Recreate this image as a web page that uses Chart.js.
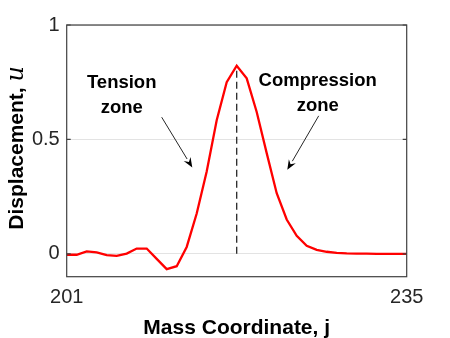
<!DOCTYPE html>
<html>
<head>
<meta charset="utf-8">
<script src="https://cdn.jsdelivr.net/npm/chart.js@4.4.1/dist/chart.umd.min.js"></script>
<style>
  html, body { margin: 0; padding: 0; background: #ffffff; }
  #wrap { width: 450px; height: 338px; position: relative; }
</style>
</head>
<body>
<div id="wrap"><canvas id="c" width="450" height="338"></canvas></div>
<script>
// ---- data ----
const massCoordinate = [201,202,203,204,205,206,207,208,209,210,211,212,213,214,215,216,217,218,219,220,221,222,223,224,225,226,227,228,229,230,231,232,233,234,235];
const displacement = [-0.004,-0.004,0.011,0.006,-0.006,-0.009,0.001,0.023,0.023,-0.022,-0.067,-0.054,0.03,0.176,0.36,0.584,0.75,0.822,0.767,0.62,0.44,0.265,0.15,0.079,0.035,0.017,0.009,0.004,0.002,0.001,0.0005,0,0,0,0];
const peakX = [218, 218];
const peakY = [0, 0.822];
const xTickValues = [201, 235];
const yTickValues = [0, 0.5, 1];
const yTickLabels = ['0', '0.5', '1'];
const xAxisTitle = 'Mass Coordinate, j';
const yAxisTitleMain = 'Displacement, ';
const yAxisTitleSymbol = 'u';
// annotation texts: label lines, x, y of each line (data coordinates)
const annotationTexts = [
  { lines: ['Tension', 'zone'], x: 206.5, y: [0.745, 0.637] },
  { lines: ['Compression', 'zone'], x: 226.1, y: [0.757, 0.648] }
];
// arrows: from (x0,y0) to tip (x1,y1), data coordinates
const annotationArrows = [
  { x0: 210.5, y0: 0.597, x1: 213.56, y1: 0.377 },
  { x0: 226.2, y0: 0.603, x1: 223.06, y1: 0.367 }
];

const curve = massCoordinate.map((x, i) => ({ x: x, y: displacement[i] }));
const peakLine = peakX.map((x, i) => ({ x: x, y: peakY[i] }));

const SANS = '"Liberation Sans", Arial, Helvetica, sans-serif';

const decor = {
  id: 'decor',
  afterDatasetsDraw(chart) {
    const ctx = chart.ctx;
    const xs = chart.scales.x, ys = chart.scales.y;
    const a = chart.chartArea;
    ctx.save();
    // annotations text
    ctx.fillStyle = '#000000';
    ctx.font = 'bold 18.5px ' + SANS;
    ctx.textAlign = 'center';
    ctx.textBaseline = 'middle';
    annotationTexts.forEach(t => {
      t.lines.forEach((ln, i) => {
        ctx.fillText(ln, xs.getPixelForValue(t.x), ys.getPixelForValue(t.y[i]));
      });
    });
    // arrows
    ctx.strokeStyle = '#262626';
    ctx.fillStyle = '#000000';
    ctx.lineWidth = 1;
    annotationArrows.forEach(ar => {
      const px0 = xs.getPixelForValue(ar.x0), py0 = ys.getPixelForValue(ar.y0);
      const px1 = xs.getPixelForValue(ar.x1), py1 = ys.getPixelForValue(ar.y1);
      const ang = Math.atan2(py1 - py0, px1 - px0);
      const L = 10, W = 4;
      const bx = px1 - L * Math.cos(ang), by = py1 - L * Math.sin(ang);
      ctx.beginPath();
      ctx.moveTo(px0, py0);
      ctx.lineTo(bx, by);
      ctx.stroke();
      ctx.beginPath();
      ctx.moveTo(px1, py1);
      ctx.lineTo(bx + W * Math.sin(ang), by - W * Math.cos(ang));
      ctx.lineTo(bx + 0.35 * L * Math.cos(ang), by + 0.35 * L * Math.sin(ang));
      ctx.lineTo(bx - W * Math.sin(ang), by + W * Math.cos(ang));
      ctx.closePath();
      ctx.fill();
    });
    // box
    ctx.strokeStyle = '#404040';
    ctx.lineWidth = 1.2;
    ctx.strokeRect(a.left, a.top, a.right - a.left, a.bottom - a.top);
    // inner tick marks on y
    ys.ticks.forEach(t => {
      const py = ys.getPixelForValue(t.value);
      ctx.beginPath();
      ctx.moveTo(a.left, py); ctx.lineTo(a.left + 4, py);
      ctx.moveTo(a.right, py); ctx.lineTo(a.right - 4, py);
      ctx.stroke();
    });
    // x title
    ctx.fillStyle = '#000000';
    ctx.font = 'bold 21px ' + SANS;
    ctx.textAlign = 'center';
    ctx.textBaseline = 'alphabetic';
    ctx.fillText(xAxisTitle, (a.left + a.right) / 2, 333.5);
    // y title (rotated)
    const mainFont = 'bold 21px ' + SANS;
    const symFont = 'italic 24px "DejaVu Serif", serif';
    ctx.font = mainFont;
    const w1 = ctx.measureText(yAxisTitleMain).width;
    ctx.font = symFont;
    const w2 = ctx.measureText(yAxisTitleSymbol).width;
    const cy = (a.top + a.bottom) / 2 - 3;
    ctx.translate(22.7, cy);
    ctx.rotate(-Math.PI / 2);
    ctx.textAlign = 'left';
    ctx.font = mainFont;
    ctx.fillText(yAxisTitleMain, -(w1 + w2) / 2, 0);
    ctx.font = symFont;
    ctx.fillText(yAxisTitleSymbol, -(w1 + w2) / 2 + w1, 0);
    ctx.restore();
  }
};

new Chart(document.getElementById('c'), {
  type: 'line',
  data: {
    datasets: [
      {
        data: curve,
        borderColor: '#ff0000',
        borderWidth: 2.3,
        pointRadius: 0,
        tension: 0,
        fill: false
      },
      {
        data: peakLine,
        borderColor: '#262626',
        borderWidth: 1.3,
        borderDash: [7, 4],
        pointRadius: 0,
        fill: false
      }
    ]
  },
  options: {
    responsive: false,
    animation: false,
    devicePixelRatio: 1,
    layout: { padding: { left: 0, right: 43.3, top: 25, bottom: 0 } },
    plugins: { legend: { display: false }, tooltip: { enabled: false } },
    scales: {
      x: {
        type: 'linear',
        min: 201, max: 235,
        afterBuildTicks: s => { s.ticks = xTickValues.map(v => ({ value: v })); },
        afterFit: s => { s.height = 61.3; },
        grid: { display: false, drawTicks: false },
        border: { display: false },
        ticks: { padding: 9, color: '#262626', font: { family: SANS, size: 20 }, maxRotation: 0,
                 callback: v => String(v) }
      },
      y: {
        min: -0.1, max: 1,
        afterBuildTicks: s => { s.ticks = yTickValues.map(v => ({ value: v })); },
        afterFit: s => { s.width = 66.7; },
        grid: { color: '#e3e3e3', lineWidth: 1, drawTicks: false },
        border: { display: false },
        ticks: { padding: 7, color: '#262626', font: { family: SANS, size: 20 },
                 callback: (v, i) => yTickLabels[yTickValues.indexOf(v)] }
      }
    }
  },
  plugins: [decor]
});
</script>
</body>
</html>
